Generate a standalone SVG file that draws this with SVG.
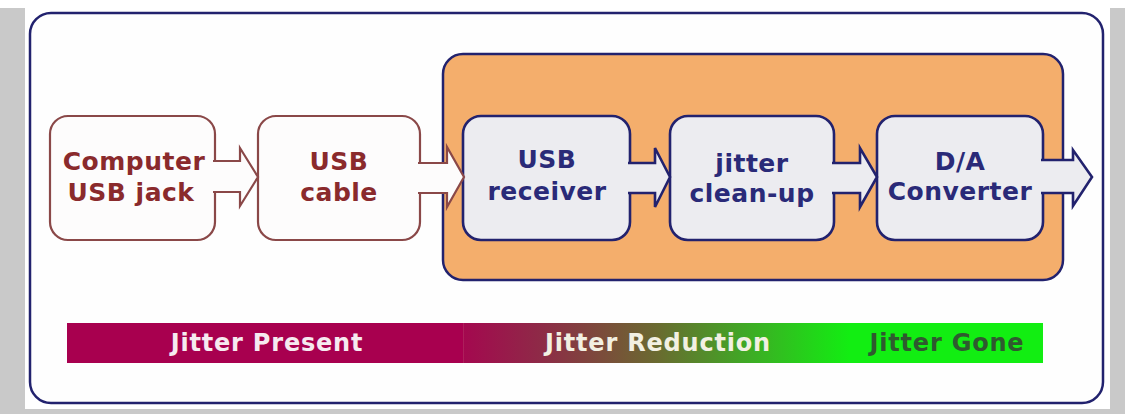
<svg xmlns="http://www.w3.org/2000/svg" width="1125" height="414" viewBox="0 0 1125 414">
  <defs>
    <linearGradient id="barGrad" gradientUnits="userSpaceOnUse" x1="463" y1="0" x2="850" y2="0">
      <stop offset="0" stop-color="#a4084f"/>
      <stop offset="0.2" stop-color="#8e2a47"/>
      <stop offset="0.5" stop-color="#6a6a30"/>
      <stop offset="0.75" stop-color="#3cae24"/>
      <stop offset="1" stop-color="#12ee12"/>
    </linearGradient>
  </defs>
  <style>
    .nodeText { font-family: "DejaVu Sans", "Liberation Sans", sans-serif; font-weight: bold; font-size: 25px; letter-spacing: 0.5px; text-anchor: middle; }
    .red { fill: #8a2a2c; }
    .navy { fill: #2a2a78; }
    .redBox { fill: #fdfcfc; stroke: #8a4848; stroke-width: 2.2; }
    .navyBox { fill: #ececf0; stroke: #22226e; stroke-width: 2.6; }
    .redArrow { fill: #fdfcfc; stroke: #8a4848; stroke-width: 2.2; stroke-linejoin: miter; }
    .navyArrow { fill: #ececf0; stroke: #22226e; stroke-width: 2.6; stroke-linejoin: miter; }
    .barText { font-family: "DejaVu Sans", "Liberation Sans", sans-serif; font-weight: bold; font-size: 24px; letter-spacing: 0.8px; text-anchor: middle; }
  </style>

  <!-- background frame -->
  <rect x="0" y="0" width="1125" height="414" fill="#ffffff"/>
  <rect x="0" y="8" width="25" height="406" fill="#c9c9c9"/>
  <rect x="1110" y="8" width="15" height="406" fill="#c9c9c9"/>
  <rect x="0" y="409" width="1125" height="5" fill="#c9c9c9"/>

  <g id="outer-frame">
    <rect x="30" y="13" width="1073" height="390" rx="21" fill="#fefefe" stroke="#22226e" stroke-width="2.5"/>
  </g>

  <g id="container">
    <rect x="443" y="54" width="620" height="226" rx="20" fill="#f4ae6c" stroke="#22226e" stroke-width="2.5"/>
  </g>

  <g id="node-computer">
    <rect class="redBox" x="50" y="116" width="165" height="124" rx="18" stroke="#8a5454"/>
    <text class="nodeText red" x="134" y="170">Computer</text>
    <text class="nodeText red" x="131" y="201">USB jack</text>
  </g>

  <g id="node-cable">
    <rect class="redBox" x="258" y="116" width="162" height="124" rx="18" stroke="#8a3434"/>
    <text class="nodeText red" x="339" y="170">USB</text>
    <text class="nodeText red" x="339" y="201">cable</text>
  </g>

  <g id="node-receiver">
    <rect class="navyBox" x="463" y="116" width="167" height="124" rx="18"/>
    <text class="nodeText navy" x="547" y="168">USB</text>
    <text class="nodeText navy" x="547" y="200">receiver</text>
  </g>

  <g id="node-jitter">
    <rect class="navyBox" x="670" y="116" width="164" height="124" rx="18"/>
    <text class="nodeText navy" x="752" y="172">jitter</text>
    <text class="nodeText navy" x="752" y="202">clean-up</text>
  </g>

  <g id="node-da">
    <rect class="navyBox" x="877" y="116" width="166" height="124" rx="18"/>
    <text class="nodeText navy" x="960" y="170">D/A</text>
    <text class="nodeText navy" x="960" y="200">Converter</text>
  </g>

  <g id="connectors">
    <path class="redArrow" d="M 213,161 L 240,161 L 240,148 L 258,177 L 240,206 L 240,192 L 213,192" stroke="#8a5454"/>
    <path class="redArrow" d="M 418,163 L 447,163 L 447,147 L 464,177 L 447,207 L 447,193 L 418,193" stroke="#8a3434"/>
    <path class="navyArrow" d="M 628,163 L 655,163 L 655,148 L 670,177 L 655,207 L 655,193 L 628,193"/>
    <path class="navyArrow" d="M 832,163 L 860,163 L 860,148 L 877,177 L 860,207 L 860,193 L 832,193"/>
    <path class="navyArrow" d="M 1041,160 L 1073,160 L 1073,150 L 1092,177 L 1073,206 L 1073,193 L 1041,193"/>
  </g>

  <g id="jitter-bar">
    <rect x="67" y="323" width="396" height="40" fill="#a8004f"/>
    <rect x="463" y="323" width="580" height="40" fill="url(#barGrad)"/>
    <rect x="849" y="323" width="194" height="40" fill="#12ee12"/>
    <line x1="463.5" y1="323" x2="463.5" y2="363" stroke="#b83a6a" stroke-width="0.8" opacity="0.6"/>
    <text class="barText" x="267" y="351" fill="#f6eaf0">Jitter Present</text>
    <text class="barText" x="658" y="351" fill="#f2f0e2">Jitter Reduction</text>
    <text class="barText" x="947" y="351" fill="#2f5a2f">Jitter Gone</text>
  </g>
</svg>
